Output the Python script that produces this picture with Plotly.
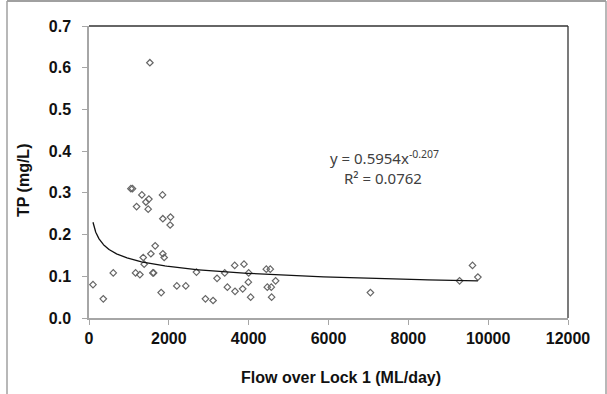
import numpy as np
import plotly.graph_objects as go

# Data
flow = [100, 358, 608, 1050, 1090, 1192, 1325, 1425, 1500, 1483, 1525, 1167, 1275,
        1358, 1383, 1550, 1658, 1600, 1620, 1808, 1842, 1850, 1850, 1883, 2042, 2033,
        2200, 2425, 2692, 2917, 3108, 3208, 3400, 3467, 3650, 3658, 3850, 3883, 4000,
        3992, 4050, 4442, 4542, 4467, 4567, 4575, 4675, 7050, 9283, 9608, 9742]
tp = [0.080, 0.046, 0.108, 0.310, 0.310, 0.267, 0.295, 0.278, 0.285, 0.261, 0.612,
      0.108, 0.104, 0.145, 0.129, 0.154, 0.173, 0.108, 0.108, 0.061, 0.295, 0.238,
      0.154, 0.145, 0.242, 0.223, 0.077, 0.077, 0.110, 0.046, 0.042, 0.095, 0.108,
      0.074, 0.126, 0.064, 0.070, 0.129, 0.108, 0.086, 0.050, 0.117, 0.117, 0.074,
      0.074, 0.050, 0.089, 0.061, 0.089, 0.126, 0.098]

# Power trendline shown in the chart: y = a * x^b
coef_a = 0.5954
coef_b = -0.207
r2_text = "0.0762"

x_ticks = [0, 2000, 4000, 6000, 8000, 10000, 12000]
y_ticks = [0.0, 0.1, 0.2, 0.3, 0.4, 0.5, 0.6, 0.7]

trend_x = np.geomspace(min(flow), max(flow), 200)
trend_y = coef_a * trend_x ** coef_b

fig = go.Figure()
fig.add_trace(go.Scatter(
    x=flow, y=tp, mode="markers",
    marker=dict(symbol="diamond-open", size=5, color="#666666", line=dict(width=1.2, color="#666666")),
    showlegend=False))
fig.add_trace(go.Scatter(
    x=trend_x, y=trend_y, mode="lines",
    line=dict(color="#111111", width=1.3), showlegend=False))

W, H = 607, 394
L, R, T, B = 89, 39, 26, 76
pw, ph = W - L - R, H - T - B

def px_x(p):
    return (p - L) / pw

def px_y(p):
    return (H - B - p) / ph

tickfont = dict(family="Liberation Sans", size=16, color="#111111", weight="bold")

fig.update_layout(
    width=W, height=H,
    margin=dict(l=L, r=R, t=T, b=B),
    paper_bgcolor="white", plot_bgcolor="white",
    xaxis=dict(range=[0, 12000], tickvals=x_ticks, ticktext=[str(v) for v in x_ticks],
               showgrid=False, zeroline=False, showline=True, linecolor="#a6a6a6",
               linewidth=1.5, ticks="outside", ticklen=5, tickcolor="#a6a6a6",
               tickfont=tickfont, fixedrange=True),
    yaxis=dict(range=[0, 0.7], tickvals=y_ticks, ticktext=[f"{v:.1f}" for v in y_ticks],
               showgrid=False, zeroline=False, showline=True, linecolor="#a6a6a6",
               linewidth=1.5, ticks="outside", ticklen=5, tickcolor="#a6a6a6",
               tickfont=tickfont, ticklabelstandoff=8, fixedrange=True),
    shapes=[
        # plot area top and right border
        dict(type="line", xref="paper", yref="paper", x0=0, x1=1, y0=1, y1=1,
             line=dict(color="#333333", width=1.3)),
        dict(type="line", xref="paper", yref="paper", x0=1, x1=1, y0=0, y1=1,
             line=dict(color="#333333", width=1.3)),
        # outer chart frame
        dict(type="line", xref="paper", yref="paper", x0=px_x(7), x1=px_x(7),
             y0=px_y(1), y1=px_y(400), line=dict(color="#a0a0a0", width=1.5)),
        dict(type="line", xref="paper", yref="paper", x0=px_x(7), x1=px_x(606),
             y0=px_y(1), y1=px_y(1), line=dict(color="#a0a0a0", width=2)),
        dict(type="line", xref="paper", yref="paper", x0=px_x(606), x1=px_x(606),
             y0=px_y(1), y1=px_y(400), line=dict(color="#a0a0a0", width=1.5)),
    ],
    annotations=[
        dict(text="<b>Flow over Lock 1 (ML/day)</b>", xref="paper", yref="paper",
             x=px_x(340.5), y=px_y(377), showarrow=False, xanchor="center", yanchor="middle",
             font=dict(family="Liberation Sans", size=16, color="#111111")),
        dict(text="<b>TP (mg/L)</b>", xref="paper", yref="paper", textangle=-90,
             x=px_x(23), y=px_y(181), showarrow=False, xanchor="center", yanchor="middle",
             font=dict(family="Liberation Sans", size=16, color="#111111")),
        dict(text=f"y = {coef_a}x<sup>{coef_b}</sup>", xref="paper", yref="paper",
             x=px_x(384), y=px_y(157), showarrow=False, xanchor="center", yanchor="middle",
             font=dict(family="Noto Sans", size=15, color="#404040")),
        dict(text=f"R² = {r2_text}", xref="paper", yref="paper",
             x=px_x(383), y=px_y(178), showarrow=False, xanchor="center", yanchor="middle",
             font=dict(family="Noto Sans", size=15, color="#404040")),
    ],
)

fig.write_html("out.html")
